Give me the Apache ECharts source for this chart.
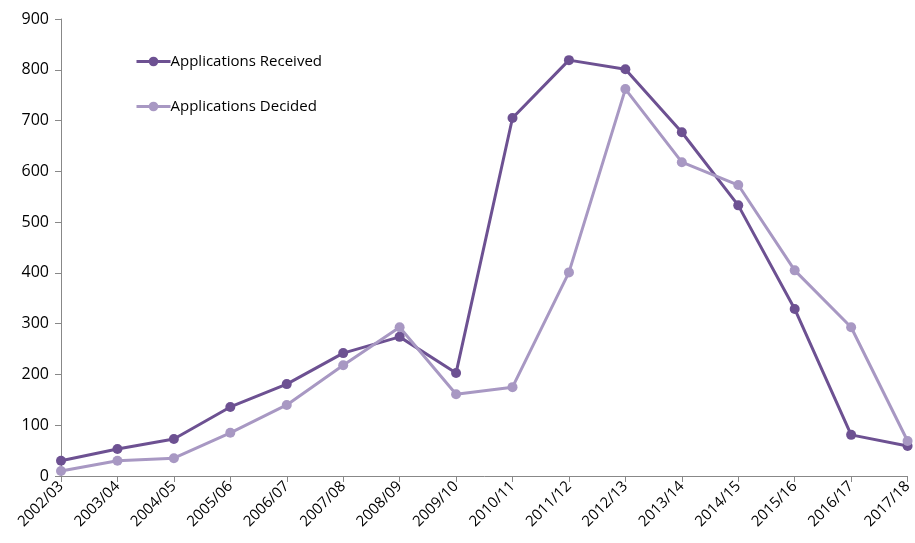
<!DOCTYPE html>
<html>
<head>
<meta charset="utf-8">
<script src="https://cdn.jsdelivr.net/npm/echarts@6/dist/echarts.min.js"></script>
<style>
  html, body { margin: 0; padding: 0; background: #fff; }
  #chart { width: 915px; height: 543px; }
</style>
</head>
<body>
<div id="chart"></div>
<script>
const years = ['2002/03', '2003/04', '2004/05', '2005/06', '2006/07', '2007/08', '2008/09', '2009/10',
    '2010/11', '2011/12', '2012/13', '2013/14', '2014/15', '2015/16', '2016/17', '2017/18']
const received = [30, 53, 73, 136, 181, 242, 274, 203, 705, 819, 801, 677, 533, 329, 81, 59]
const decided = [10, 30, 35, 85, 140, 218, 293, 161, 175, 401, 762, 618, 573, 405, 293, 69]

const fontFamily = 'Open Sans, Liberation Sans, sans-serif'

const lineSeries = (name, data, color) => ({
    name: name,
    type: 'line',
    data: data,
    symbol: 'circle',
    symbolSize: 10,
    lineStyle: { width: 3, color: color },
    itemStyle: { color: color },
    emphasis: { disabled: true }
})

const chart = echarts.init(document.getElementById('chart'))
chart.setOption({
    animation: false,
    textStyle: { fontFamily: fontFamily },
    legend: {
        orient: 'vertical',
        left: 130,
        top: 49,
        itemGap: 30,
        itemWidth: 34,
        itemHeight: 12,
        lineStyle: { width: 3 },
        textStyle: { fontSize: 15, color: '#000', fontFamily: fontFamily, padding: [0, 0, 0, -5] },
        data: ['Applications Received', 'Applications Decided']
    },
    grid: { left: 61, right: 5, top: 19, bottom: 67, containLabel: false },
    xAxis: {
        type: 'category',
        data: years,
        boundaryGap: false,
        axisLine: { lineStyle: { color: '#888', width: 1 } },
        axisTick: { show: true, alignWithLabel: true, length: 6, lineStyle: { color: '#888' } },
        axisLabel: { rotate: 45, fontSize: 15, color: '#000', margin: 8, interval: 0 },
        splitLine: { show: false }
    },
    yAxis: {
        type: 'value',
        min: 0,
        max: 900,
        interval: 100,
        axisLine: { show: true, lineStyle: { color: '#888', width: 1 } },
        axisTick: { show: true, length: 6, lineStyle: { color: '#888' } },
        axisLabel: { fontSize: 16, color: '#000', margin: 12 },
        splitLine: { show: false }
    },
    series: [
        lineSeries('Applications Received', received, '#6D5192'),
        lineSeries('Applications Decided', decided, '#A898C3')
    ]
})
</script>
</body>
</html>
